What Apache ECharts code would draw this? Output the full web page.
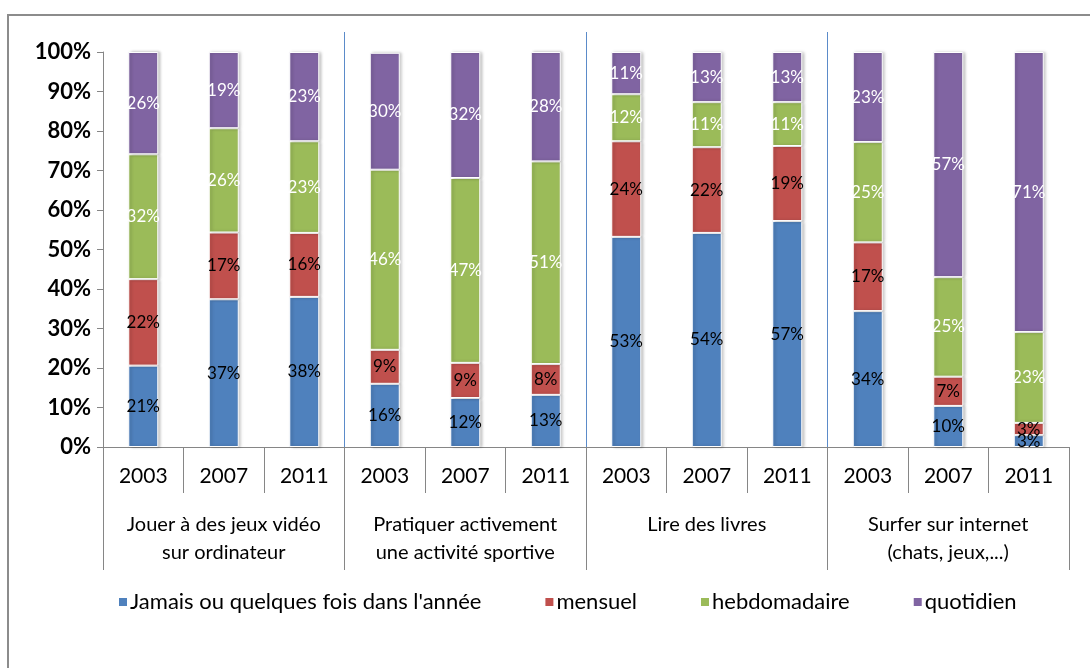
<!DOCTYPE html>
<html>
<head>
<meta charset="utf-8">
<script src="https://cdn.jsdelivr.net/npm/echarts@6/dist/echarts.min.js"></script>
<style>
  html, body { margin: 0; padding: 0; background: #fff; }
  #chart { width: 1090px; height: 668px; }
</style>
</head>
<body>
<div id="chart"></div>
<script>
const years = ['2003', '2007', '2011', '2003', '2007', '2011', '2003', '2007', '2011', '2003', '2007', '2011'];
const groups = [
  'Jouer à des jeux vidéo\nsur ordinateur',
  'Pratiquer activement\nune activité sportive',
  'Lire des livres',
  'Surfer sur internet\n(chats, jeux,...)'
];
const seriesNames = ["Jamais ou quelques fois dans l'année", 'mensuel', 'hebdomadaire', 'quotidien'];
const jamais = [20.6, 37.4, 38.0, 16.0, 12.4, 13.2, 53.2, 54.2, 57.2, 34.4, 10.4, 3.0];
const mensuel = [21.9, 16.9, 16.2, 8.6, 8.9, 7.8, 24.2, 21.7, 19.0, 17.4, 7.4, 3.1];
const hebdomadaire = [31.6, 26.4, 23.2, 45.6, 46.8, 51.3, 11.9, 11.4, 11.1, 25.4, 25.2, 23.0];
const quotidien = [25.9, 19.3, 22.6, 29.6, 31.9, 27.7, 10.7, 12.7, 12.7, 22.8, 57.0, 70.9];

const colors = ['#4F81BD', '#C0504D', '#9BBB59', '#8064A2'];
const labelColors = ['#000', '#000', '#fff', '#fff'];
const font = 'Lato, "Open Sans", sans-serif';

function makeSeries(i, data) {
  return {
    name: seriesNames[i],
    type: 'bar',
    stack: 'total',
    barWidth: 30,
    data: data,
    itemStyle: {
      color: colors[i],
      borderColor: '#fff',
      borderWidth: 1,
      shadowColor: 'rgba(0,0,0,0.25)',
      shadowBlur: 3,
      shadowOffsetX: 2
    },
    label: {
      show: true,
      position: 'inside',
      color: labelColors[i],
      fontFamily: font,
      fontSize: 17,
      formatter: (p) => Math.round(p.value) + '%'
    }
  };
}

const chart = echarts.init(document.getElementById('chart'), null, { renderer: 'canvas' });
chart.setOption({
  animation: false,
  color: colors,
  textStyle: { fontFamily: font },
  graphic: [{
    type: 'rect',
    shape: { x: 8, y: 15, width: 1200, height: 800 },
    style: { fill: 'none', stroke: '#8c8c8c', lineWidth: 2 },
    z: -10
  }],
  grid: [
    { left: 103, right: 21, top: 52, bottom: 221 },
    { left: 103, right: 21, top: 32, bottom: 221 }
  ],
  legend: {
    bottom: 50,
    left: 112,
    itemWidth: 10,
    itemHeight: 10,
    itemGap: 62,
    icon: 'rect',
    textStyle: { fontSize: 22, color: '#000', fontFamily: font, padding: [0, 0, 0, -3] },
    data: seriesNames
  },
  xAxis: [
    {
      type: 'category',
      gridIndex: 0,
      data: years,
      axisLine: { show: true, lineStyle: { color: '#868686' } },
      axisTick: { show: true, interval: 0, length: 46, lineStyle: { color: '#868686' } },
      axisLabel: { interval: 0, margin: 19, fontSize: 21, color: '#000', fontFamily: font }
    },
    {
      type: 'category',
      gridIndex: 1,
      data: groups,
      axisLine: { show: true, lineStyle: { color: '#868686' } },
      axisTick: { show: true, interval: 0, length: 123, lineStyle: { color: '#868686' } },
      axisLabel: { interval: 0, margin: 64, fontSize: 20, lineHeight: 28, color: '#000', fontFamily: font },
      splitLine: {
        show: true,
        showMinLine: false,
        showMaxLine: false,
        lineStyle: { color: '#5B8BC9', width: 1 }
      }
    }
  ],
  yAxis: [
    {
      type: 'value',
      gridIndex: 0,
      min: 0,
      max: 100,
      interval: 10,
      axisLine: { show: true, lineStyle: { color: '#868686' } },
      axisTick: { show: true, length: 6, lineStyle: { color: '#868686' } },
      splitLine: { show: false },
      axisLabel: { margin: 12, fontSize: 22, fontWeight: 'bold', color: '#000', fontFamily: font, formatter: '{value}%' }
    },
    { type: 'value', gridIndex: 1, show: false, min: 0, max: 100 }
  ],
  series: [
    makeSeries(0, jamais),
    makeSeries(1, mensuel),
    makeSeries(2, hebdomadaire),
    makeSeries(3, quotidien)
  ]
});
</script>
</body>
</html>
